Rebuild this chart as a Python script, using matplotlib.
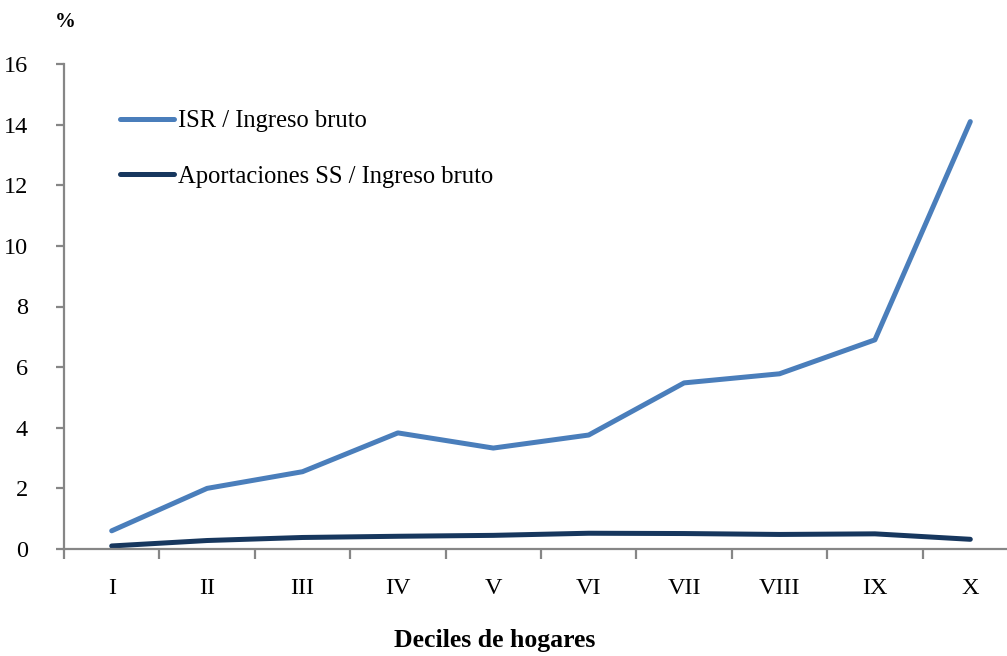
import matplotlib
matplotlib.use("Agg")
import matplotlib.pyplot as plt

deciles = ["I", "II", "III", "IV", "V", "VI", "VII", "VIII", "IX", "X"]
isr = [0.6, 2.0, 2.55, 3.83, 3.33, 3.76, 5.48, 5.78, 6.9, 14.1]
ss = [0.1, 0.28, 0.38, 0.42, 0.45, 0.52, 0.51, 0.48, 0.5, 0.32]
yticks = [0, 2, 4, 6, 8, 10, 12, 14, 16]

plt.rcParams['font.family'] = ['Liberation Serif', 'DejaVu Serif']

fig = plt.figure(figsize=(10.07, 6.56), dpi=100)
ax = fig.add_axes([64/1007, 107/656, 954/1007, 485/656])

x = list(range(1, len(deciles) + 1))
ax.plot(x, isr, color="#4A7EBB", lw=3.6, solid_capstyle="round", label="ISR / Ingreso bruto")
ax.plot(x, ss, color="#17375E", lw=3.6, solid_capstyle="round", label="Aportaciones SS / Ingreso bruto")

ax.set_xlim(0.5, 10.5)
ax.set_ylim(0, 16)
ax.set_yticks(yticks)
ax.set_yticklabels([str(v) for v in yticks], fontsize=17.5)
ax.set_xticks(x)
ax.set_xticklabels(deciles, fontsize=17.5)
ax.set_xticks([i + 0.5 for i in range(0, 11)], minor=True)
ax.tick_params(axis="x", which="major", length=0, pad=21)
ax.tick_params(axis="x", which="minor", length=7, width=1.6, color="#868686")
ax.tick_params(axis="y", length=6, width=1.6, color="#868686", pad=20)

for s in ["top", "right"]:
    ax.spines[s].set_visible(False)
for s in ["left", "bottom"]:
    ax.spines[s].set_color("#868686")
    ax.spines[s].set_linewidth(1.6)

ax.legend(loc="upper left", bbox_to_anchor=(56/954, 0.905), frameon=False, fontsize=17.7,
          borderaxespad=0, borderpad=0,
          handlelength=2.2, handletextpad=0.15, labelspacing=1.35)

fig.text(65/1007, 1 - 22/656, "%", fontsize=15, fontweight="bold", ha="center", va="center")
fig.text(495/1007, 1 - 640/656, "Deciles de hogares", fontsize=18.5, fontweight="bold", ha="center", va="center")

fig.savefig("out.png", dpi=100)
